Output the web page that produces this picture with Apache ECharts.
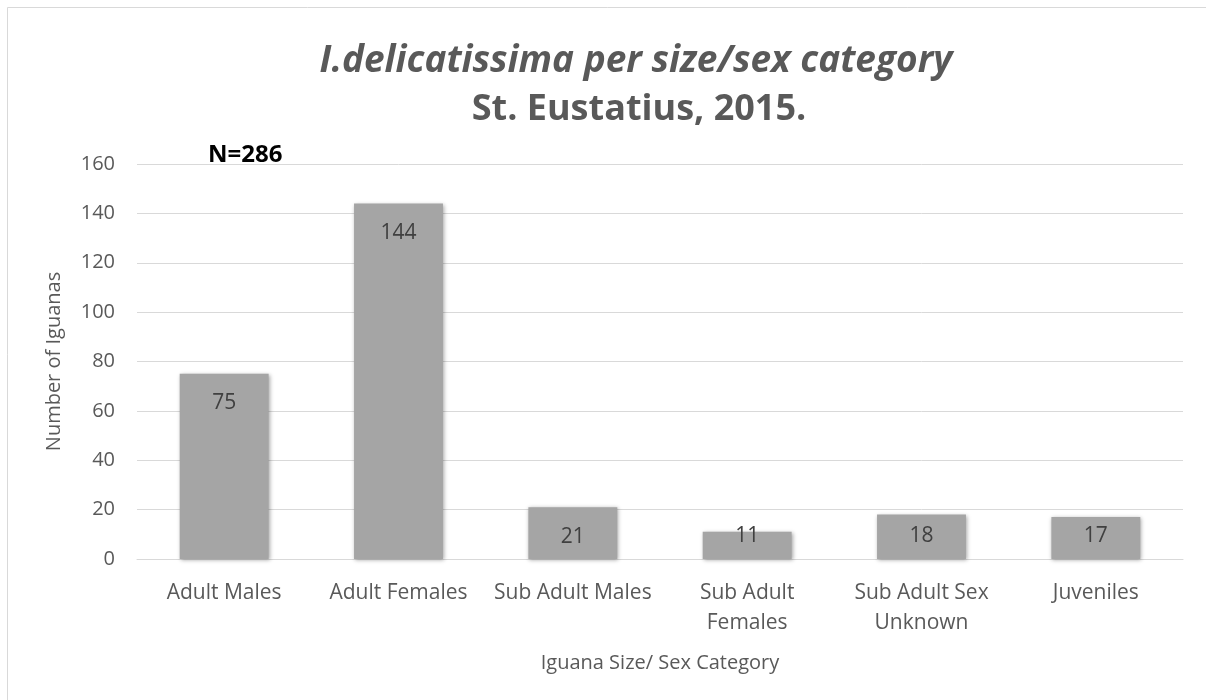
<!DOCTYPE html>
<html>
<head>
<meta charset="utf-8">
<script src="https://cdn.jsdelivr.net/npm/echarts@6/dist/echarts.min.js"></script>
<style>html,body{margin:0;padding:0;background:#fff}#c{width:1206px;height:700px}</style>
</head>
<body>
<div id="c"></div>
<script>
const categories = ['Adult Males', 'Adult Females', 'Sub Adult Males', 'Sub Adult\nFemales', 'Sub Adult Sex\nUnknown', 'Juveniles'];
const counts = [75, 144, 21, 11, 18, 17];
const yTicks = { min: 0, max: 160, interval: 20 };
const titleText = 'I.delicatissima per size/sex category';
const subtitleText = 'St. Eustatius, 2015.';
const noteText = 'N=286';

const FONT = 'Open Sans';
const chart = echarts.init(document.getElementById('c'), null, { renderer: 'canvas' });

const barData = counts.map(v => {
  const item = { value: v };
  if (v < 20) {
    item.label = { position: 'insideBottom', distance: 12 };
  }
  return item;
});

chart.setOption({
  backgroundColor: '#fff',
  animation: false,
  title: [
    { text: titleText, left: 631, top: 38, textAlign: 'center',
      textStyle: { fontFamily: FONT, fontStyle: 'italic', fontWeight: 'bold', fontSize: 37, color: '#595959' } },
    { text: subtitleText, left: 634, top: 87, textAlign: 'center',
      textStyle: { fontFamily: FONT, fontWeight: 'bold', fontSize: 36, color: '#595959' } },
    { text: noteText, left: 203, top: 138,
      textStyle: { fontFamily: FONT, fontWeight: 'bold', fontSize: 24, color: '#000' } }
  ],
  graphic: [
    { type: 'rect', shape: { x: 7.5, y: 7.5, width: 1250, height: 750 }, style: { fill: null, stroke: '#d9d9d9', lineWidth: 1 }, silent: true }
  ],
  grid: { left: 137, right: 23, top: 164, bottom: 141, containLabel: false },
  xAxis: {
    type: 'category',
    data: categories,
    name: 'Iguana Size/ Sex Category',
    nameLocation: 'middle',
    nameGap: 94,
    nameTextStyle: { fontFamily: FONT, fontSize: 20, color: '#595959' },
    axisLine: { lineStyle: { color: '#d9d9d9', width: 1 } },
    axisTick: { show: false },
    axisLabel: { fontFamily: FONT, fontSize: 21, color: '#595959', margin: 19, lineHeight: 30, interval: 0 }
  },
  yAxis: {
    type: 'value',
    min: yTicks.min, max: yTicks.max, interval: yTicks.interval,
    name: 'Number of Iguanas',
    nameLocation: 'middle',
    nameGap: 73,
    nameRotate: 90,
    nameTextStyle: { fontFamily: FONT, fontSize: 20, color: '#595959' },
    axisLine: { show: false },
    axisTick: { show: false },
    axisLabel: { fontFamily: FONT, fontSize: 20, color: '#595959', margin: 22 },
    splitLine: { lineStyle: { color: '#d9d9d9', width: 1 } }
  },
  series: [{
    type: 'bar',
    data: barData,
    barWidth: '51%',
    itemStyle: { color: '#a5a5a5', shadowColor: 'rgba(0,0,0,0.35)', shadowBlur: 4, shadowOffsetX: 1, shadowOffsetY: 1 },
    label: { show: true, position: 'insideTop', distance: 19, fontFamily: FONT, fontSize: 21, color: '#404040' }
  }]
});
</script>
</body>
</html>
